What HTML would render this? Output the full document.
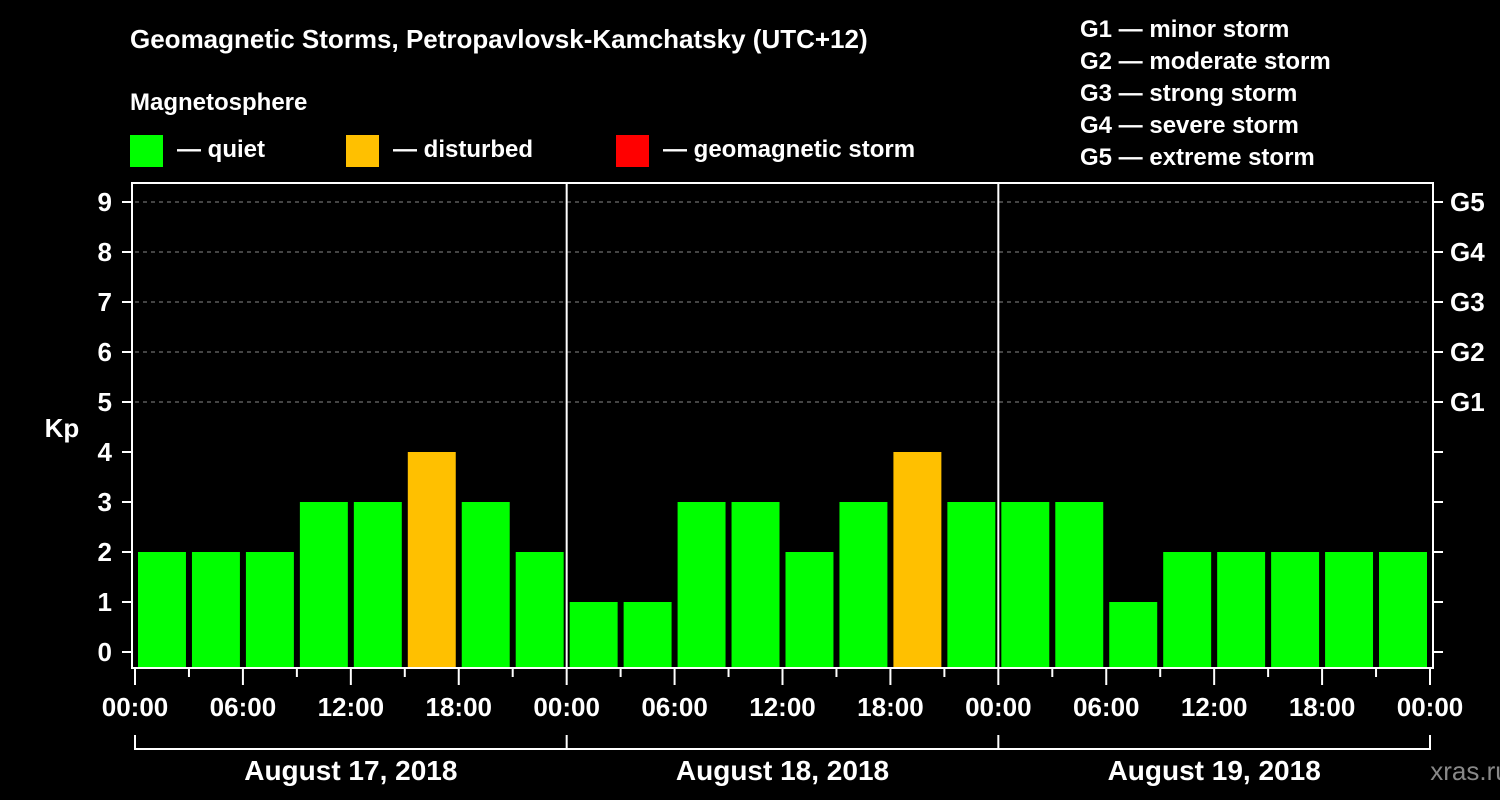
<!DOCTYPE html>
<html><head><meta charset="utf-8"><style>
body{margin:0;background:#000;}
svg{display:block;font-family:"Liberation Sans",Arial,sans-serif;font-weight:bold;}
</style></head><body>
<svg id="c" width="1500" height="800" viewBox="0 0 1500 800">
<rect width="1500" height="800" fill="#000"/>
<text x="130" y="48" fill="#fff" font-size="26">Geomagnetic Storms, Petropavlovsk-Kamchatsky (UTC+12)</text>
<text x="130" y="110" fill="#fff" font-size="24">Magnetosphere</text>
<g><rect x="130" y="135" width="33" height="32" fill="#00ff00"/><text x="177" y="157" fill="#fff" font-size="24">— quiet</text></g>
<g><rect x="346" y="135" width="33" height="32" fill="#ffc000"/><text x="393" y="157" fill="#fff" font-size="24">— disturbed</text></g>
<g><rect x="616" y="135" width="33" height="32" fill="#ff0000"/><text x="663" y="157" fill="#fff" font-size="24">— geomagnetic storm</text></g>
<g fill="#fff" font-size="24">
<text x="1080" y="37">G1 — minor storm</text><text x="1080" y="69">G2 — moderate storm</text><text x="1080" y="101">G3 — strong storm</text><text x="1080" y="133">G4 — severe storm</text><text x="1080" y="165">G5 — extreme storm</text>
</g>
<text x="62" y="437" fill="#fff" font-size="26" text-anchor="middle">Kp</text>
<text x="1470" y="780" fill="#888" font-size="26" font-weight="normal" text-anchor="middle">xras.ru</text>
<g id="grid"></g><g id="bars"></g><g id="axes"></g>
</svg>
<script>
const kpValues=[2,2,2,3,3,4,3,2, 1,1,3,3,2,3,4,3, 3,3,1,2,2,2,2,2];
const dayLabels=["August 17, 2018","August 18, 2018","August 19, 2018"];
const hourLabels=["00:00","06:00","12:00","18:00"];
const gLabels=["G1","G2","G3","G4","G5"];
const yTicks=[0,1,2,3,4,5,6,7,8,9];
const NS="http://www.w3.org/2000/svg";
const X0=135,X1=1430,Y0=652,UNIT=50,BOT=667;
const step=(X1-X0)/kpValues.length;
const xs=i=>X0+i*step;
const ys=v=>Y0-v*UNIT;
function mk(t,a,p){const e=document.createElementNS(NS,t);for(const k in a)e.setAttribute(k,a[k]);p.appendChild(e);return e;}
const grid=document.getElementById('grid'),bars=document.getElementById('bars'),axes=document.getElementById('axes');
yTicks.forEach(v=>{
  if(v>=5){const l=mk('line',{x1:X0,x2:X1,y1:ys(v),y2:ys(v),stroke:'#888','stroke-dasharray':'4,4','stroke-width':1},grid);
  }
  mk('line',{x1:122,x2:132,y1:ys(v),y2:ys(v),stroke:'#fff','stroke-width':2},axes);
  mk('line',{x1:1433,x2:1443,y1:ys(v),y2:ys(v),stroke:'#fff','stroke-width':2},axes);
  const t=mk('text',{x:112,y:ys(v)+9,fill:'#fff','font-size':26,'text-anchor':'end'},axes);t.textContent=v;
  
});
gLabels.forEach((g,i)=>{const t=mk('text',{x:1450,y:ys(i+5)+9,fill:'#fff','font-size':26},axes);t.textContent=g;
  });
kpValues.forEach((v,i)=>{
  const c=v>=5?'#ff0000':(v>=4?'#ffc000':'#00ff00');
  const r=mk('rect',{x:xs(i)+3,y:ys(v),width:step-6,height:BOT-ys(v),fill:c},bars);
  
});
mk('rect',{x:132,y:183,width:1301,height:485,fill:'none',stroke:'#fff','stroke-width':2},axes);
for(let d=1;d<dayLabels.length;d++){mk('line',{x1:xs(d*8),x2:xs(d*8),y1:183,y2:668,stroke:'#fff','stroke-width':2},axes);}
for(let i=0;i<=kpValues.length;i++){
  mk('line',{x1:xs(i),x2:xs(i),y1:668,y2:i%2==0?685:677,stroke:'#fff','stroke-width':2},axes);
  if(i%2==0){const t=mk('text',{x:xs(i),y:716,fill:'#fff','font-size':26,'text-anchor':'middle'},axes);
    t.textContent=hourLabels[(i/2)%4];}
}
dayLabels.forEach((d,k)=>{
  const a=xs(k*8),b=xs(k*8+8);
  mk('line',{x1:a,x2:b,y1:749,y2:749,stroke:'#fff','stroke-width':2},axes);
  mk('line',{x1:a,x2:a,y1:735,y2:750,stroke:'#fff','stroke-width':2},axes);
  if(k==dayLabels.length-1)mk('line',{x1:b,x2:b,y1:735,y2:750,stroke:'#fff','stroke-width':2},axes);
  const t=mk('text',{x:(a+b)/2,y:780,fill:'#fff','font-size':28,'text-anchor':'middle'},axes);t.textContent=d;
  
});
</script>
</body></html>
